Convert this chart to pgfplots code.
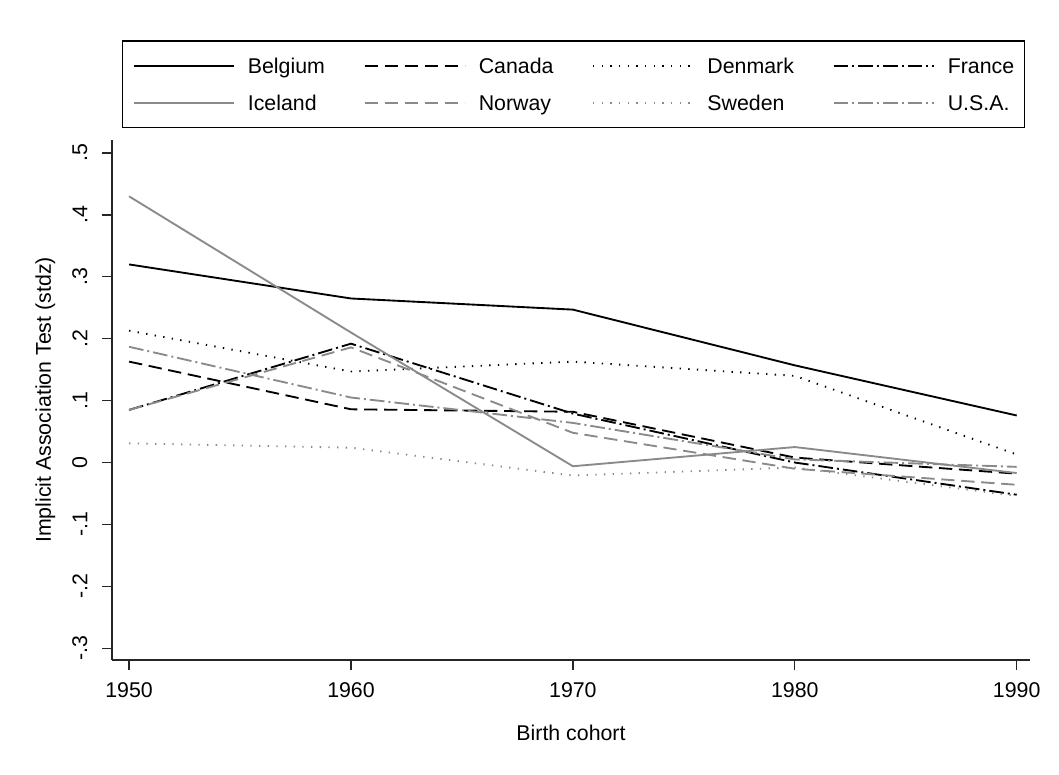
\documentclass[border=0pt]{standalone}
\usepackage{fontspec}
\setmainfont{Liberation Sans}
\usepackage{pgfplots}
\pgfplotsset{compat=1.18}
\definecolor{mgray}{RGB}{138,138,138}
\begin{document}
\fontsize{16pt}{19pt}\selectfont
\begin{tikzpicture}[x=1pt,y=1pt]
\path[use as bounding box] (-84,-85.5) rectangle (710.25,495);
\begin{axis}[
 at={(0,0)}, anchor=south west,
 scale only axis, width=688.5pt, height=390pt,
 xmin=1949.23, xmax=1990.6, ymin=-0.319, ymax=0.521,
 axis x line*=bottom, axis y line*=left,
 axis line style={line width=1pt, black!85},
 tick align=outside, major tick length=7.5pt,
 tick style={line width=1pt, black!85},
 every tick label/.append style={font=\fontsize{16pt}{19pt}\selectfont},
 label style={font=\fontsize{16pt}{19pt}\selectfont},
 xtick={1950,1960,1970,1980,1990},
 xticklabels={1950,1960,1970,1980,1990},
 xticklabel style={yshift=-4pt},
 ytick={-0.3,-0.2,-0.1,0,0.1,0.2,0.3,0.4,0.5},
 yticklabels={-.3,-.2,-.1,0,.1,.2,.3,.4,.5},
 yticklabel style={xshift=-5.5pt, rotate=90, anchor=south},
 xlabel={Birth cohort}, ylabel={Implicit Association Test (stdz)},
 xlabel style={at={(axis description cs:0.5,-0.141)}, anchor=center},
 ylabel style={at={(axis description cs:-0.0726,0.5)}, anchor=center},
 legend columns=4,
 legend cell align=left,
 legend image code/.code={\draw[#1] (0pt,0pt) -- (75pt,0pt);},
 legend style={at={(0.0109,1.023)}, anchor=south west, draw=black, line width=1pt,
   font=\fontsize{16pt}{19pt}\selectfont,
   inner xsep=7.5pt, inner ysep=11pt, row sep=12.75pt, column sep=10pt,
   nodes={inner xsep=0pt, inner ysep=0pt, text height=13.5pt, text depth=1.5pt},
   /tikz/every even column/.append style={column sep=29pt}},
]
\addplot[black, line width=1.4pt] coordinates {(1950,0.320) (1960,0.265) (1970,0.247) (1980,0.157) (1990,0.076)};
\addlegendentry{Belgium}
\addplot[black, line width=1.4pt, dash pattern=on 10pt off 5pt] coordinates {(1950,0.163) (1960,0.086) (1970,0.082) (1980,0.008) (1990,-0.018)};
\addlegendentry{Canada}
\addplot[black, line width=1.4pt, dash pattern=on 1pt off 5.5pt] coordinates {(1950,0.213) (1960,0.147) (1970,0.163) (1980,0.140) (1990,0.013)};
\addlegendentry{Denmark}
\addplot[black, line width=1.4pt, dash pattern=on 11pt off 3pt on 1.5pt off 3pt] coordinates {(1950,0.085) (1960,0.192) (1970,0.079) (1980,0.000) (1990,-0.052)};
\addlegendentry{France}
\addplot[mgray, line width=1.4pt] coordinates {(1950,0.430) (1960,0.210) (1970,-0.006) (1980,0.025) (1990,-0.017)};
\addlegendentry{Iceland}
\addplot[mgray, line width=1.4pt, dash pattern=on 10pt off 5pt] coordinates {(1950,0.085) (1960,0.186) (1970,0.048) (1980,-0.010) (1990,-0.036)};
\addlegendentry{Norway}
\addplot[mgray, line width=1.4pt, dash pattern=on 1pt off 5.5pt] coordinates {(1950,0.031) (1960,0.024) (1970,-0.021) (1980,-0.008) (1990,-0.054)};
\addlegendentry{Sweden}
\addplot[mgray, line width=1.4pt, dash pattern=on 11pt off 3pt on 1.5pt off 3pt] coordinates {(1950,0.187) (1960,0.105) (1970,0.064) (1980,0.005) (1990,-0.007)};
\addlegendentry{U.S.A.}
\end{axis}
\end{tikzpicture}
\end{document}
